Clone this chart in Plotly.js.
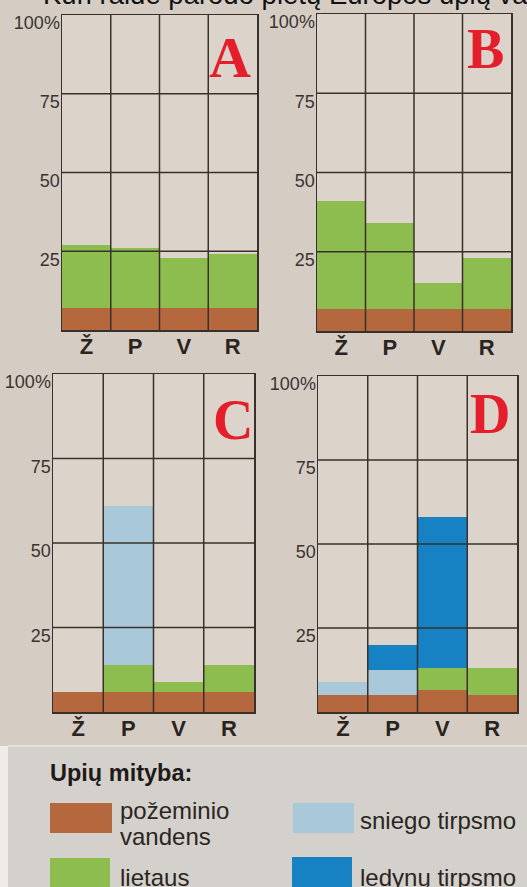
<!DOCTYPE html>
<html>
<head>
<meta charset="utf-8">
<script src="https://cdn.plot.ly/plotly-3.0.1.min.js"></script>
<style>html,body{margin:0;padding:0;background:#d5cdc4;}#chart{width:527px;height:887px;}</style>
</head>
<body>
<div id="chart"></div>
<script>
// ---------- data ----------
const categories = ['Ž', 'P', 'V', 'R'];
const seriesNames = ['požeminio vandens', 'lietaus', 'sniego tirpsmo', 'ledynų tirpsmo'];
const legendLabels = [['požeminio', 'vandens'], ['lietaus'], ['sniego tirpsmo'], ['ledynų tirpsmo']];
const panelLetters = ['A', 'B', 'C', 'D'];
const yTickVals = [25, 50, 75, 100];
const yTickText = ['25', '50', '75', '100%'];
const titleText = 'Kuri raidė parodo pietų Europos upių va';
const legendTitle = 'Upių mityba:';

// panel A
const A_pozeminio = [7, 7, 7, 7];
const A_lietaus   = [20, 19, 16, 17];
const A_sniego    = [0, 0, 0, 0];
const A_ledynu    = [0, 0, 0, 0];
// panel B
const B_pozeminio = [7, 7, 7, 7];
const B_lietaus   = [34, 27, 8, 16];
const B_sniego    = [0, 0, 0, 0];
const B_ledynu    = [0, 0, 0, 0];
// panel C
const C_pozeminio = [6, 6, 6, 6];
const C_lietaus   = [0, 8, 3, 8];
const C_sniego    = [0, 47, 0, 0];
const C_ledynu    = [0, 0, 0, 0];
// panel D
const D_pozeminio = [5, 5, 6.5, 5];
const D_lietaus   = [0, 0, 6.5, 8];
const D_sniego    = [4, 7.5, 0, 0];
const D_ledynu    = [0, 7.5, 45, 0];

// ---------- styling ----------
const colors = ['#b5683d', '#8dbd4f', '#a9c9da', '#1782c3'];
const gridColor = '#3a302b';
const W = 527, H = 887;
const px = v => v / W;
const py = v => 1 - v / H;

const panels = [
  {data: [A_pozeminio, A_lietaus, A_sniego, A_ledynu], x0: 62, x1: 257, y0: 15, y1: 330, lx: 230, ly: 58, ls: 58},
  {data: [B_pozeminio, B_lietaus, B_sniego, B_ledynu], x0: 317, x1: 511, y0: 14, y1: 331, lx: 485, ly: 49, ls: 56},
  {data: [C_pozeminio, C_lietaus, C_sniego, C_ledynu], x0: 53, x1: 254, y0: 374, y1: 712, lx: 233, ly: 420, ls: 56},
  {data: [D_pozeminio, D_lietaus, D_sniego, D_ledynu], x0: 318, x1: 517, y0: 376, y1: 712, lx: 490, ly: 414, ls: 56}
];

const traces = [];
const layout = {
  width: W, height: H,
  margin: {l: 0, r: 0, t: 0, b: 0},
  paper_bgcolor: '#d5cdc4',
  plot_bgcolor: '#dcd4ca',
  barmode: 'stack',
  bargap: 0,
  showlegend: false,
  hovermode: false,
  shapes: [],
  annotations: []
};

// background of legend area (photo of page lower part)
layout.shapes.push({type: 'rect', xref: 'paper', yref: 'paper', x0: px(8), x1: 1, y0: 0, y1: py(746), fillcolor: '#d4d0cb', line: {width: 0}, layer: 'below'});
layout.shapes.push({type: 'rect', xref: 'paper', yref: 'paper', x0: 0, x1: px(8), y0: 0, y1: py(746), fillcolor: '#efece8', line: {width: 0}, layer: 'below'});
layout.shapes.push({type: 'line', xref: 'paper', yref: 'paper', x0: px(8), x1: 1, y0: py(746), y1: py(746), line: {color: '#ebe7e2', width: 1.5}, layer: 'below'});

panels.forEach((p, i) => {
  const n = i === 0 ? '' : String(i + 1);
  const xa = 'xaxis' + n, ya = 'yaxis' + n;
  const xr = 'x' + n, yr = 'y' + n;
  p.data.forEach((vals, s) => {
    traces.push({
      type: 'bar', x: categories, y: vals, name: seriesNames[s],
      marker: {color: colors[s], line: {width: 0}},
      xaxis: xr, yaxis: yr, width: 1
    });
  });
  layout[xa] = {
    domain: [px(p.x0), px(p.x1)], anchor: yr,
    type: 'category', range: [-0.5, 3.5],
    showline: true, mirror: true, linecolor: gridColor, linewidth: 1.5,
    showgrid: false, zeroline: false,
    ticks: '', ticklabelstandoff: -4,
    tickfont: {family: 'Liberation Sans Narrow, Arial Narrow, sans-serif', size: 22, color: '#2a2420', weight: 'bold'},
    fixedrange: true
  };
  layout[ya] = {
    domain: [py(p.y1), py(p.y0)], anchor: xr,
    range: [0, 100],
    showline: true, mirror: true, linecolor: gridColor, linewidth: 1.5,
    showgrid: false, zeroline: false,
    tickvals: yTickVals, ticktext: yTickText,
    ticks: '', ticklabelstandoff: -3,
    ticklabelshift: 8,
    tickfont: {family: 'Liberation Sans, Arial, sans-serif', size: 18, color: '#3a3431'},
    fixedrange: true
  };
  // category separators and horizontal grid lines drawn above the bars
  [0.5, 1.5, 2.5].forEach(xv => {
    layout.shapes.push({type: 'line', xref: xr, yref: yr + ' domain', x0: xv, x1: xv, y0: 0, y1: 1, line: {color: gridColor, width: 1.5}, layer: 'above'});
  });
  [25, 50, 75].forEach(yv => {
    layout.shapes.push({type: 'line', xref: xr + ' domain', yref: yr, x0: 0, x1: 1, y0: yv, y1: yv, line: {color: gridColor, width: 1.5}, layer: 'above'});
  });
  layout.annotations.push({
    text: panelLetters[i], xref: 'paper', yref: 'paper', x: px(p.lx), y: py(p.ly),
    xanchor: 'center', yanchor: 'middle', showarrow: false,
    font: {family: 'Liberation Serif, Times New Roman, serif', size: p.ls, color: '#e41e2b', weight: 'bold'}
  });
});

// cut-off question text at the very top
layout.annotations.push({
  text: titleText, xref: 'paper', yref: 'paper', x: px(41), y: py(-6),
  xanchor: 'left', yanchor: 'middle', showarrow: false,
  font: {family: 'Liberation Sans, Arial, sans-serif', size: 27.5, color: '#111'}
});

// legend
layout.annotations.push({
  text: '<b>' + legendTitle + '</b>', xref: 'paper', yref: 'paper', x: px(48), y: py(773),
  xanchor: 'left', yanchor: 'middle', showarrow: false,
  font: {family: 'Liberation Sans, Arial, sans-serif', size: 23.5, color: '#1e1a18'}
});
const legendPos = [
  {sx0: 50, sx1: 112, sy0: 803, sy1: 833, tx: 118, ty: 810, lh: 26},
  {sx0: 50, sx1: 110, sy0: 858, sy1: 889, tx: 118, ty: 877, lh: 26},
  {sx0: 293, sx1: 354, sy0: 803, sy1: 833, tx: 358, ty: 820, lh: 26},
  {sx0: 292, sx1: 352, sy0: 857, sy1: 889, tx: 358, ty: 877, lh: 26}
];
legendPos.forEach((l, s) => {
  layout.shapes.push({type: 'rect', xref: 'paper', yref: 'paper', x0: px(l.sx0), x1: px(l.sx1), y0: py(l.sy1), y1: py(l.sy0), fillcolor: colors[s], line: {width: 0}});
  legendLabels[s].forEach((line, k) => {
    layout.annotations.push({
      text: line, xref: 'paper', yref: 'paper', x: px(l.tx), y: py(l.ty + k * l.lh),
      xanchor: 'left', yanchor: 'middle', align: 'left', showarrow: false,
      font: {family: 'Liberation Sans, Arial, sans-serif', size: 24, color: '#2a2522'}
    });
  });
});

Plotly.newPlot('chart', traces, layout, {staticPlot: true, displayModeBar: false});
</script>
</body>
</html>
